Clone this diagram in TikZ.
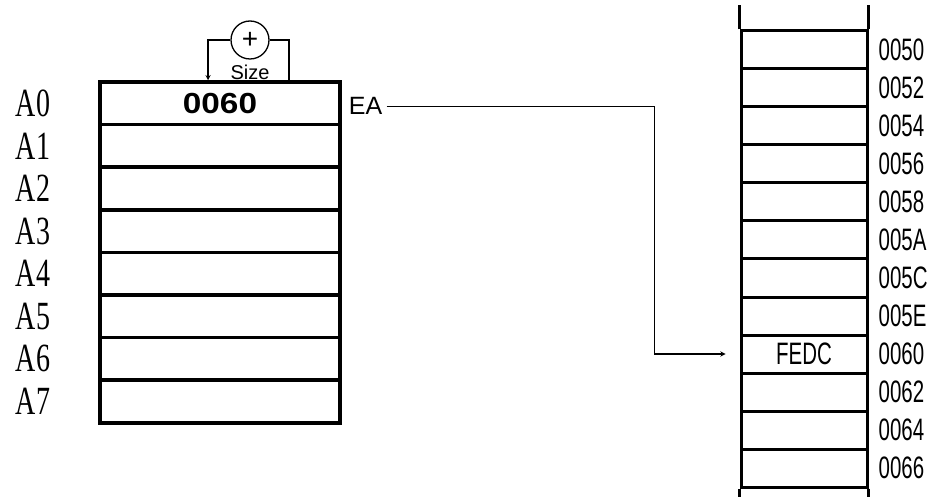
\documentclass[tikz,border=0pt]{standalone}
\usepackage{fontspec}
\setmainfont{Liberation Sans}
\newfontfamily\serifpix{Liberation Serif}
\usepackage{tikz}
\usetikzlibrary{arrows, positioning}
\tikzset{>=stealth}
\tikzset{
	reg/.style={draw, line width=3.5pt, minimum width=240pt, minimum height=42.6pt, inner sep=0pt},
	cell/.style={draw, line width=3pt, minimum width=126pt, minimum height=38pt, inner sep=0pt},
	regname/.style={inner sep=0pt, xscale=.7, font=\serifpix\fontsize{40}{40}\selectfont},
	addr/.style={inner sep=0pt, xscale=.66, font=\fontsize{31}{31}\selectfont},
	wire/.style={line width=1.3pt}
}

\begin{document}
\begin{tikzpicture}[>=stealth, x=10pt, y=10pt]
		\useasboundingbox (0,0) rectangle (94,49.6);
		% address registers
		\foreach \i in {0,...,7} \node[reg] (r\i) at (22, {39.27-4.26*\i}) {};
		\foreach \i in {0,...,7} \node[regname, left=48pt of r\i] (a\i) {A\i};
		\node[font=\bfseries\fontsize{29}{29}\selectfont, xscale=1.15, inner sep=0pt] (val) at (r0) {0060};
		% adder
		\node[draw, circle, line width=1.3pt, minimum size=38pt, inner sep=0pt, font=\fontsize{28}{28}\selectfont] (add) at (25,45.6) {+};
		\node[below=5pt of add, inner sep=0pt, font=\fontsize{20}{20}\selectfont] (size) {Size};
		\draw[wire, ->] (add.west) -| ([xshift=-12pt]r0.north);
		\draw[wire] (add.east) -| ([xshift=69pt]r0.north);
		% memory
		\foreach \a [count=\k from 0] in {0050,0052,0054,0056,0058,005A,005C,005E,0060,0062,0064,0066}{
			\node[cell] (m\k) at (80.4, {44.6-3.8*\k}) {};
			\node[addr, right=10pt of m\k] (l\k) {\a};
		}
		\draw[line width=3pt] (m0.north west) -- ++(0,2.4) (m0.north east) -- ++(0,2.4);
		\draw[line width=3pt] (m11.south west) -- ++(0,-2) (m11.south east) -- ++(0,-2);
		\node[addr] (data) at (m8) {FEDC};
		% effective address
		\node[right=7pt of r0, yshift=-3pt, inner sep=0pt, font=\fontsize{25}{25}\selectfont] (ea) {EA};
		\draw[wire, ->] ([xshift=4pt]ea.east) -- ++(26.8,0) |- ([xshift=-14pt]m8.west);
\end{tikzpicture}
\end{document}
